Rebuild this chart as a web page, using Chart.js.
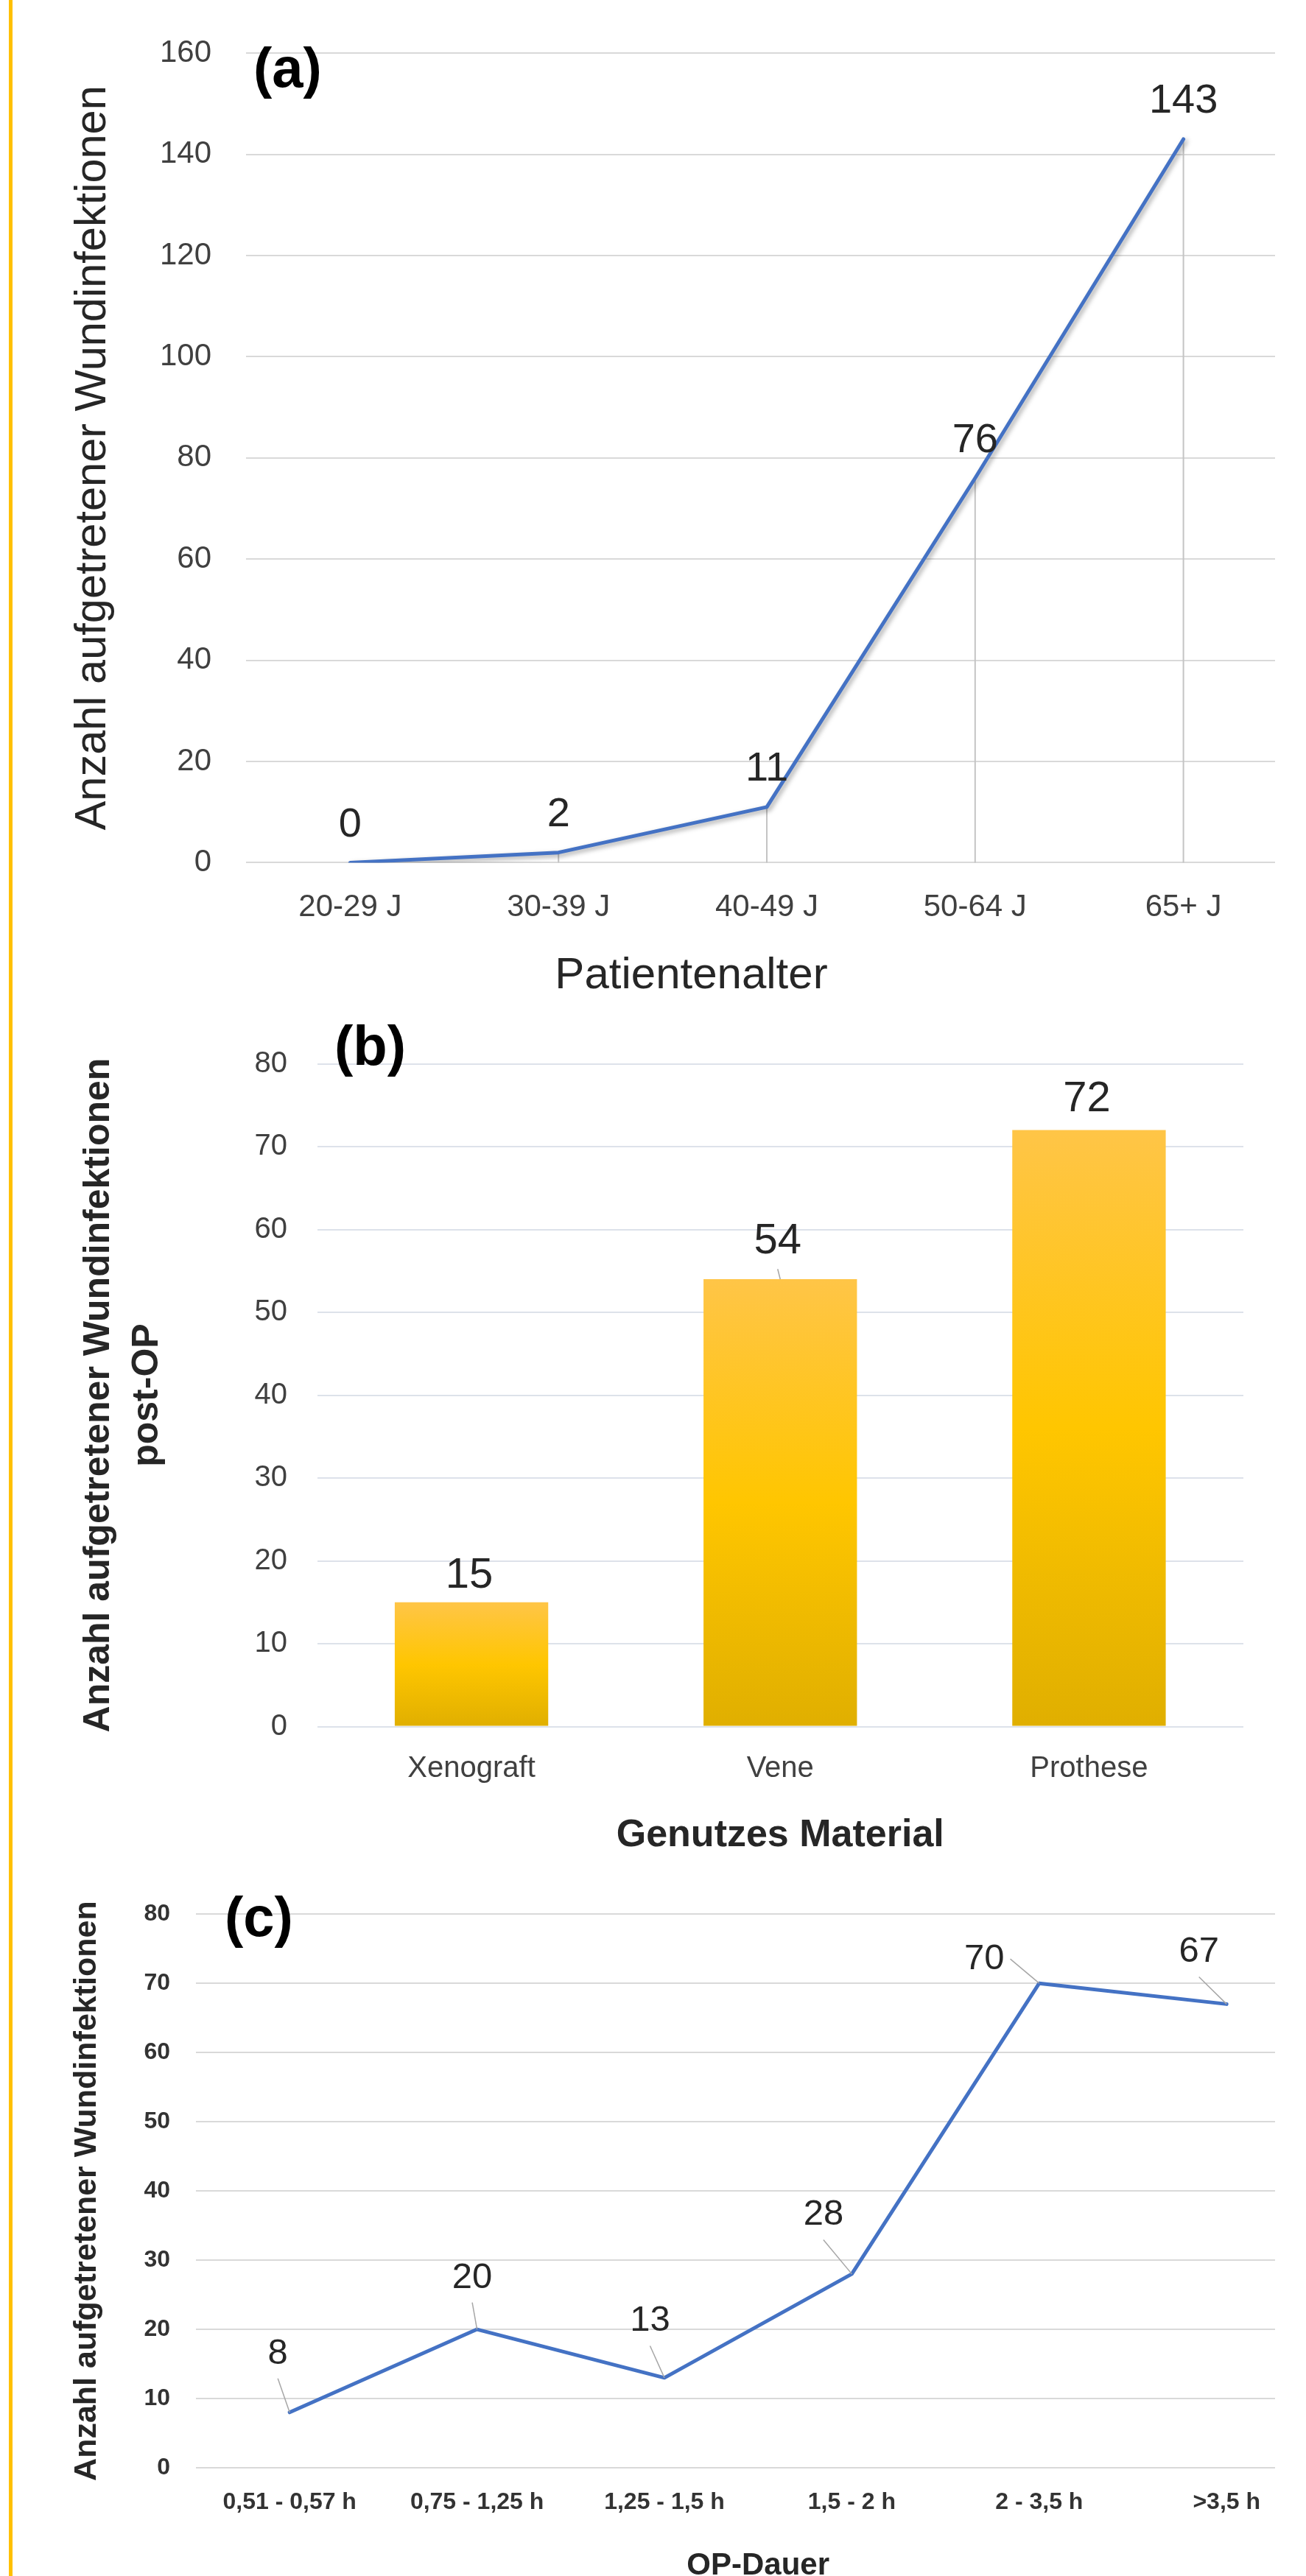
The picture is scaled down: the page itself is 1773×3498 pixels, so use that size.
<!DOCTYPE html>
<html>
<head>
<meta charset="utf-8">
<script src="https://cdn.jsdelivr.net/npm/chart.js@4.4.1/dist/chart.umd.min.js"></script>
<style>
  html, body { margin: 0; padding: 0; background: #ffffff; width: 1773px; height: 3498px; overflow: hidden; }
  .wrap { position: absolute; left: 0; width: 1731px; overflow: hidden; }
  #wa { top: 0; height: 1380px; }
  #wb { top: 1380px; height: 1165px; }
  #wc { top: 2545px; height: 953px; }
  #edge { position: absolute; left: 12px; top: 0; width: 5px; height: 3498px; background: #FFC000; z-index: 5; }
  canvas { display: block; }
</style>
</head>
<body>
<div class="wrap" id="wa"><canvas id="ca" width="1800" height="1380"></canvas></div>
<div class="wrap" id="wb"><canvas id="cb" width="1800" height="1165"></canvas></div>
<div class="wrap" id="wc"><canvas id="cc" width="1800" height="985"></canvas></div>
<div id="edge"></div>
<script>
// ---------- data ----------
const ageCategories = ['20-29 J', '30-39 J', '40-49 J', '50-64 J', '65+ J'];
const ageInfections = [0, 2, 11, 76, 143];
const ageTicks = [0, 20, 40, 60, 80, 100, 120, 140, 160];

const materialCategories = ['Xenograft', 'Vene', 'Prothese'];
const materialInfections = [15, 54, 72];
const materialTicks = [0, 10, 20, 30, 40, 50, 60, 70, 80];

const durationCategories = ['0,51 - 0,57 h', '0,75 - 1,25 h', '1,25 - 1,5 h', '1,5 - 2 h', '2 - 3,5 h', '>3,5 h'];
const durationInfections = [8, 20, 13, 28, 70, 67];
const durationTicks = [0, 10, 20, 30, 40, 50, 60, 70, 80];

// ---------- helpers ----------
const FONT = "'Liberation Sans', Arial, Helvetica, sans-serif";
Chart.defaults.font.family = FONT;
Chart.defaults.color = '#404040';
Chart.defaults.animation = false;

function fixWidth(w) { return s => { s.width = w; }; }
function fixHeight(h) { return s => { s.height = h; }; }
function useTicks(values) { return s => { s.ticks = values.map(v => ({ value: v })); }; }

function valueLabelPlugin(cfg) {
  return {
    id: 'valueLabels',
    afterDatasetsDraw(chart) {
      const ctx = chart.ctx;
      const meta = chart.getDatasetMeta(0);
      const values = chart.data.datasets[0].data;
      ctx.save();
      ctx.font = cfg.font;
      ctx.textAlign = 'center';
      ctx.textBaseline = 'middle';
      meta.data.forEach((el, i) => {
        const off = cfg.offsets[i] || cfg.offsets[0];
        const lx = el.x + off[0], ly = el.y + off[1];
        const text = String(values[i]);
        if (cfg.leaders && cfg.leaders[i]) {
          const w = ctx.measureText(text).width / 2;
          const h = cfg.size * 0.36;
          const vx = el.x - lx, vy = el.y - ly;
          let sx, sy;
          if (Math.abs(vy) - h >= Math.abs(vx) - w) { sx = lx; sy = ly + Math.sign(vy) * (h + 16); }
          else { sx = lx + Math.sign(vx) * (w + 8); sy = ly; }
          ctx.beginPath();
          ctx.moveTo(sx, sy);
          ctx.lineTo(el.x, el.y);
          ctx.strokeStyle = '#A6A6A6';
          ctx.lineWidth = 1.5;
          ctx.stroke();
        }
        ctx.fillStyle = cfg.color;
        ctx.fillText(text, lx, ly);
      });
      ctx.restore();
    }
  };
}

function freeTextPlugin(items) {
  return {
    id: 'freeText',
    afterDraw(chart) {
      const ctx = chart.ctx;
      items.forEach(it => {
        ctx.save();
        ctx.font = it.font;
        ctx.fillStyle = it.color || '#000';
        ctx.textAlign = it.align || 'left';
        ctx.textBaseline = it.baseline || 'alphabetic';
        ctx.translate(it.x, it.y);
        if (it.rotation) ctx.rotate(it.rotation);
        ctx.fillText(it.text, 0, 0);
        ctx.restore();
      });
    }
  };
}

const dropLines = {
  id: 'dropLines',
  beforeDatasetsDraw(chart) {
    const ctx = chart.ctx;
    const meta = chart.getDatasetMeta(0);
    const bottom = chart.chartArea.bottom;
    ctx.save();
    ctx.strokeStyle = '#C4C4C4';
    ctx.lineWidth = 2;
    meta.data.forEach(el => {
      ctx.beginPath();
      ctx.moveTo(el.x, el.y);
      ctx.lineTo(el.x, bottom);
      ctx.stroke();
    });
    ctx.restore();
  }
};

const lineShadow = {
  id: 'lineShadow',
  beforeDatasetDraw(chart) {
    const c = chart.ctx;
    c.save();
    c.shadowColor = 'rgba(0,0,0,0.35)';
    c.shadowBlur = 6;
    c.shadowOffsetX = 3;
    c.shadowOffsetY = 3;
  },
  afterDatasetDraw(chart) { chart.ctx.restore(); }
};

function barGradient(ctx) {
  const chart = ctx.chart;
  if (!chart.chartArea) return '#FFC600';
  const ys = chart.scales.y;
  const top = ys.getPixelForValue(ctx.raw);
  const bot = ys.getPixelForValue(0);
  const g = chart.ctx.createLinearGradient(0, top, 0, bot);
  g.addColorStop(0, '#FFC547');
  g.addColorStop(0.5, '#FFC600');
  g.addColorStop(1, '#E0AF00');
  return g;
}

// ---------- chart (a) ----------
new Chart(document.getElementById('ca'), {
  type: 'line',
  data: {
    labels: ageCategories,
    datasets: [{
      data: ageInfections,
      borderColor: '#4472C4',
      borderWidth: 5,
      pointRadius: 0,
      tension: 0,
      fill: false,
      borderJoinStyle: 'round',
      borderCapStyle: 'round'
    }]
  },
  options: {
    responsive: false,
    devicePixelRatio: 1,
    animation: false,
    layout: { padding: { top: 65.7, right: 52, bottom: 0, left: 0 } },
    plugins: { legend: { display: false }, tooltip: { enabled: false } },
    scales: {
      x: {
        type: 'category',
        offset: true,
        grid: { display: false, drawTicks: false },
        border: { display: false },
        ticks: { font: { size: 42 }, color: '#404040', padding: 36, maxRotation: 0, autoSkip: false },
        afterFit: fixHeight(208.6)
      },
      y: {
        min: 0, max: 160,
        afterBuildTicks: useTicks(ageTicks),
        grid: { color: '#D9D9D9', lineWidth: 2, drawTicks: false },
        border: { display: false },
        ticks: { font: { size: 42 }, color: '#404040', padding: 47 },
        title: {
          display: true,
          text: 'Anzahl aufgetretener Wundinfektionen',
          font: { size: 59.5 },
          color: '#262626',
          padding: { top: 90.8, bottom: 0 }
        },
        afterFit: fixWidth(334)
      }
    }
  },
  plugins: [
    lineShadow,
    dropLines,
    valueLabelPlugin({ font: '56px ' + FONT, size: 56, color: '#262626', offsets: [[0, -51]] }),
    freeTextPlugin([
      { text: '(a)', x: 344, y: 118, font: 'bold 76px ' + FONT, color: '#000000' },
      { text: 'Patientenalter', x: 938.5, y: 1325.5, font: '60px ' + FONT, color: '#262626', align: 'center', baseline: 'middle' }
    ])
  ]
});

// ---------- chart (b) ----------
new Chart(document.getElementById('cb'), {
  type: 'bar',
  data: {
    labels: materialCategories,
    datasets: [{
      data: materialInfections,
      backgroundColor: barGradient,
      borderWidth: 0,
      barPercentage: 0.497,
      categoryPercentage: 1
    }]
  },
  options: {
    responsive: false,
    devicePixelRatio: 1,
    animation: false,
    layout: { padding: { top: 26.7, right: 112, bottom: 0, left: 0 } },
    plugins: { legend: { display: false }, tooltip: { enabled: false } },
    scales: {
      x: {
        type: 'category',
        offset: true,
        grid: { display: false, drawTicks: false },
        border: { display: false },
        ticks: { font: { size: 40 }, color: '#404040', padding: 33.4, maxRotation: 0, autoSkip: false },
        title: {
          display: true,
          text: 'Genutzes Material',
          font: { size: 52, weight: 'bold' },
          color: '#262626',
          padding: { top: 0, bottom: 20.8 }
        },
        afterFit: fixHeight(200.4)
      },
      y: {
        min: 0, max: 80,
        afterBuildTicks: useTicks(materialTicks),
        grid: { color: '#DDE2EA', lineWidth: 2, drawTicks: false },
        border: { display: false },
        ticks: { font: { size: 40 }, color: '#404040', padding: 40.5 },
        title: {
          display: true,
          text: ['Anzahl aufgetretener Wundinfektionen', 'post-OP'],
          font: { size: 50, weight: 'bold', lineHeight: 1.32 },
          color: '#262626',
          padding: { top: 101.7, bottom: 0 }
        },
        afterFit: fixWidth(430.5)
      }
    }
  },
  plugins: [
    valueLabelPlugin({
      font: '58px ' + FONT, size: 58, color: '#262626',
      offsets: [[-3, -36], [-3.5, -50.7], [-3, -42]],
      leaders: [false, true, false]
    }),
    freeTextPlugin([
      { text: '(b)', x: 454, y: 66, font: 'bold 76px ' + FONT, color: '#000000' }
    ])
  ]
});

// ---------- chart (c) ----------
new Chart(document.getElementById('cc'), {
  type: 'line',
  data: {
    labels: durationCategories,
    datasets: [{
      data: durationInfections,
      borderColor: '#4472C4',
      borderWidth: 5,
      pointRadius: 0,
      tension: 0,
      fill: false,
      borderJoinStyle: 'round',
      borderCapStyle: 'round'
    }]
  },
  options: {
    responsive: false,
    devicePixelRatio: 1,
    animation: false,
    layout: { padding: { top: 42, right: 7.6, bottom: 0, left: 0 } },
    plugins: { legend: { display: false }, tooltip: { enabled: false } },
    scales: {
      x: {
        type: 'category',
        offset: true,
        grid: { display: false, drawTicks: false },
        border: { display: false },
        ticks: { font: { size: 32, weight: 'bold' }, color: '#333333', padding: 27.8, maxRotation: 0, autoSkip: false },
        title: {
          display: true,
          text: 'OP-Dauer',
          font: { size: 42, weight: 'bold' },
          color: '#262626',
          padding: { top: 0, bottom: 20.8 }
        },
        afterFit: fixHeight(179)
      },
      y: {
        min: 0, max: 80,
        afterBuildTicks: useTicks(durationTicks),
        grid: { color: '#D9D9D9', lineWidth: 2, drawTicks: false },
        border: { display: false },
        ticks: { font: { size: 32, weight: 'bold' }, color: '#333333', padding: 35 },
        title: {
          display: true,
          text: 'Anzahl aufgetretener Wundinfektionen',
          font: { size: 43, weight: 'bold' },
          color: '#262626',
          padding: { top: 92.3, bottom: 0 }
        },
        afterFit: fixWidth(266)
      }
    }
  },
  plugins: [
    valueLabelPlugin({
      font: '49px ' + FONT, size: 49, color: '#262626',
      offsets: [[-16, -79.6], [-6.5, -70], [-19.5, -77], [-38.5, -80], [-74.5, -33], [-37.5, -70.5]],
      leaders: [true, true, true, true, true, true]
    }),
    freeTextPlugin([
      { text: '(c)', x: 305, y: 84, font: 'bold 76px ' + FONT, color: '#000000' }
    ])
  ]
});
</script>
</body>
</html>
